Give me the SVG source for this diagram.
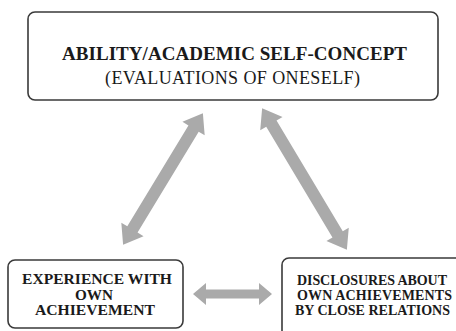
<svg xmlns="http://www.w3.org/2000/svg" width="456" height="331" viewBox="0 0 456 331">
  <style>
    .box { fill: #ffffff; stroke: #3a3a3a; stroke-width: 1.6; }
    .arrow { fill: #aaaaaa; }
    text { font-family: "Liberation Serif", serif; fill: #1a1a1a; text-anchor: middle; }
    .b { font-weight: bold; }
  </style>
  <rect width="456" height="331" fill="#ffffff"/>

  <g id="connectors">
    <!-- left diagonal: experience <-> self-concept -->
    <polygon class="arrow" transform="translate(163,179) rotate(-58.8)"
      points="-77,0 -59,-13 -59,-6 59,-6 59,-13 77,0 59,13 59,6 -59,6 -59,13"/>
    <!-- right diagonal: self-concept <-> disclosures -->
    <polygon class="arrow" transform="translate(304.5,179) rotate(59.1)"
      points="-82.5,0 -64.5,-13 -64.5,-6 64.5,-6 64.5,-13 82.5,0 64.5,13 64.5,6 -64.5,6 -64.5,13"/>
    <!-- bottom horizontal: experience <-> disclosures -->
    <polygon class="arrow"
      points="193,294 206,283 206,289.5 259,289.5 259,283 272,294 259,305 259,298.5 206,298.5 206,305"/>
  </g>

  <g id="self-concept">
    <rect class="box" x="28" y="12" width="410" height="88" rx="7"/>
    <text class="b" x="234.5" y="60" font-size="19" textLength="345">ABILITY/ACADEMIC SELF-CONCEPT</text>
    <text x="232.5" y="84" font-size="18" textLength="255">(EVALUATIONS OF ONESELF)</text>
  </g>

  <g id="experience">
    <rect class="box" x="8" y="260" width="175" height="68" rx="7"/>
    <text class="b" x="97" y="284" font-size="14" textLength="150" lengthAdjust="spacingAndGlyphs">EXPERIENCE WITH</text>
    <text class="b" x="94" y="299.5" font-size="14" textLength="38" lengthAdjust="spacingAndGlyphs">OWN</text>
    <text class="b" x="95" y="315" font-size="14" textLength="120" lengthAdjust="spacingAndGlyphs">ACHIEVEMENT</text>
  </g>

  <g id="disclosures">
    <rect class="box" x="282" y="258" width="190" height="90" rx="7"/>
    <text class="b" x="372" y="285" font-size="14" textLength="150">DISCLOSURES ABOUT</text>
    <text class="b" x="374.5" y="300" font-size="14" textLength="155">OWN ACHIEVEMENTS</text>
    <text class="b" x="372.5" y="315" font-size="14" textLength="155">BY CLOSE RELATIONS</text>
  </g>
</svg>
